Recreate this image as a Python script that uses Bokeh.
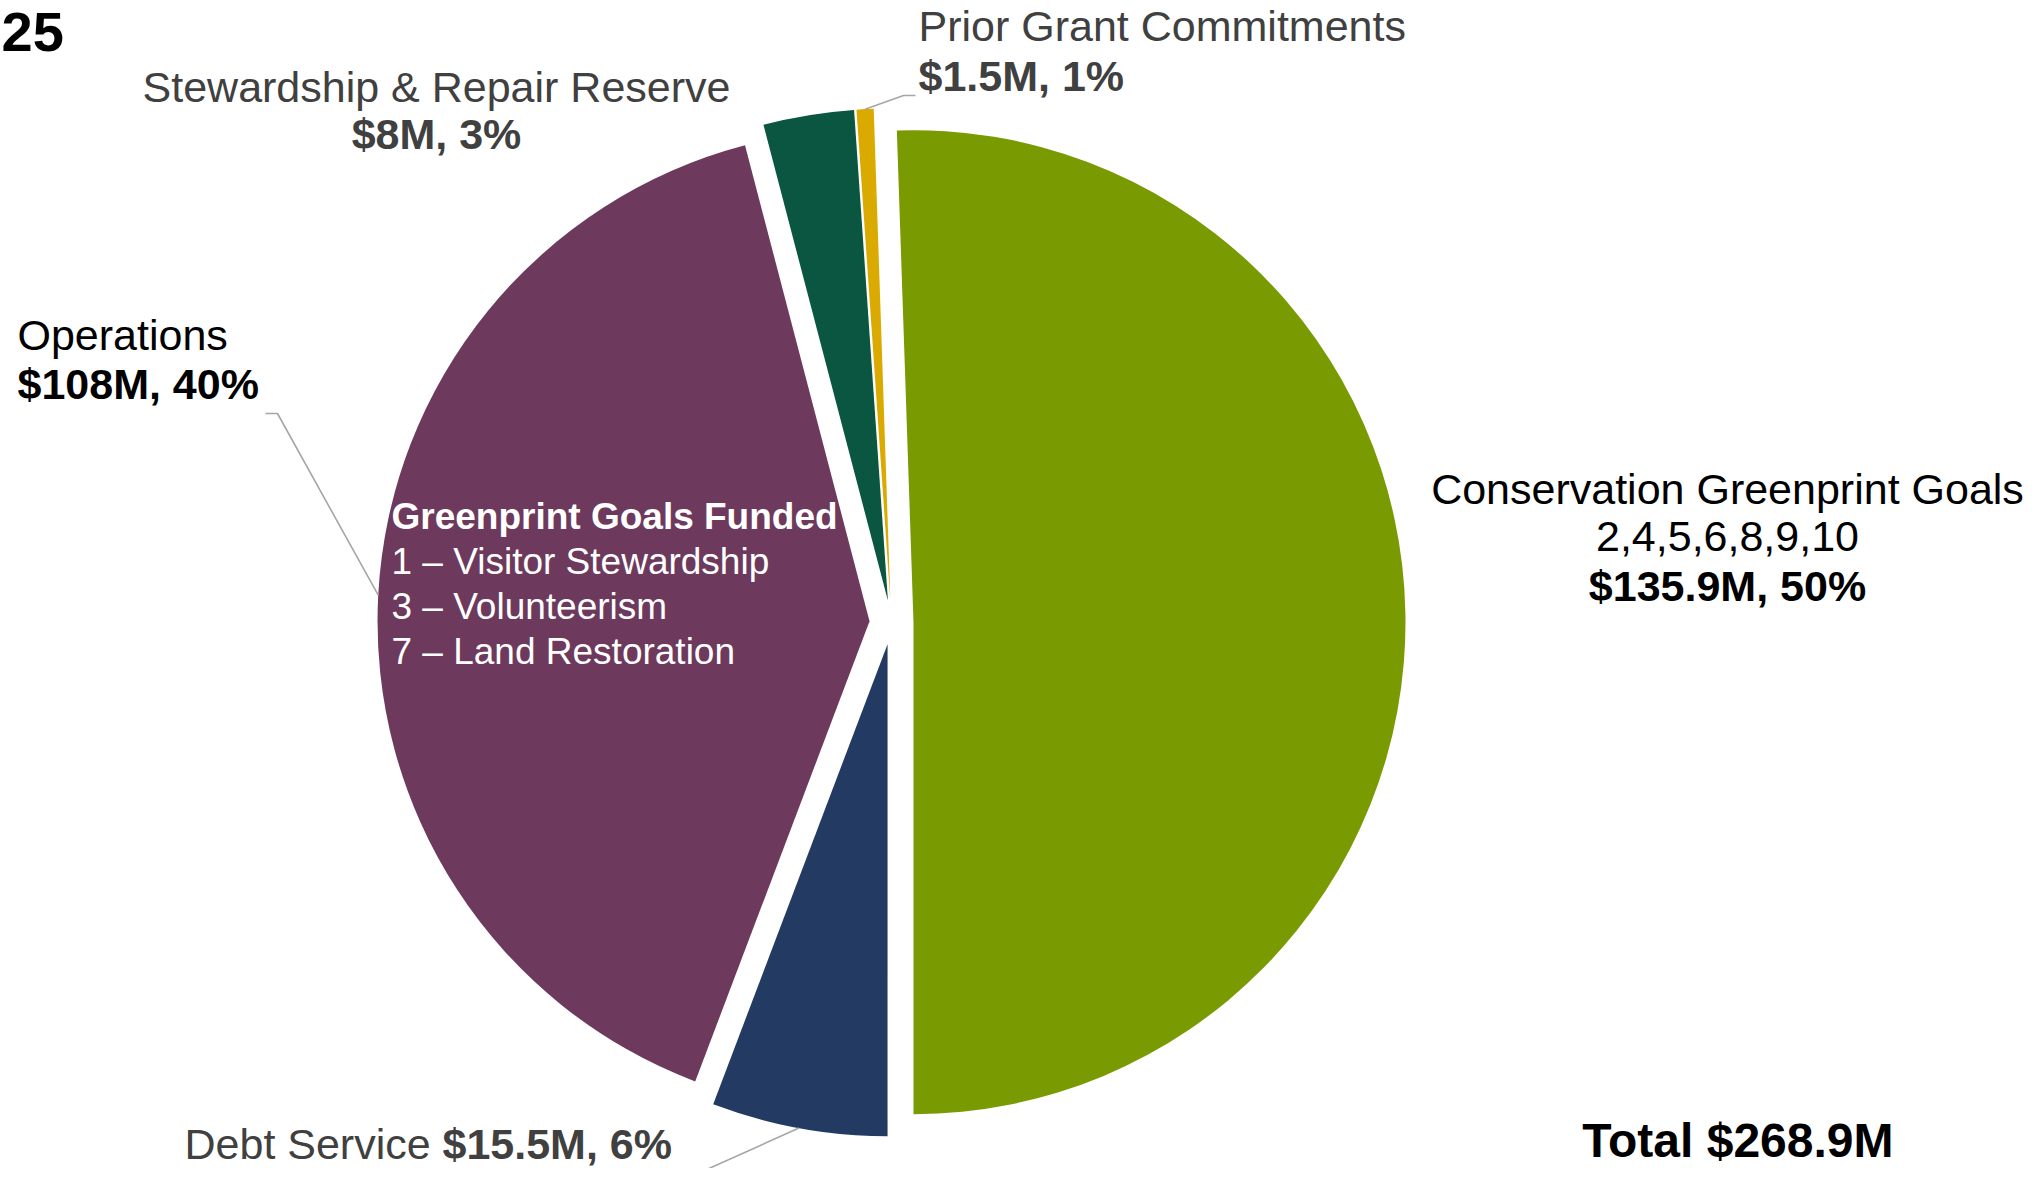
import numpy as np
from bokeh.plotting import figure
from bokeh.models import Range1d, ColumnDataSource
from bokeh.core.properties import value
from bokeh.embed import file_html
from bokeh.resources import INLINE

# ---------------- data ----------------
categories = ["Conservation Greenprint Goals", "Prior Grant Commitments",
              "Stewardship & Repair Reserve", "Operations", "Debt Service"]
amounts = [135.9, 1.5, 8.0, 108.0, 15.5]          # $M
amount_labels = ["$135.9M", "$1.5M", "$8M", "$108M", "$15.5M"]
pct_labels = ["50%", "1%", "3%", "40%", "6%"]
colors = ["#7A9A01", "#DAAA00", "#0A5640", "#6D3A5D", "#233A62"]
conservation_goals = "2,4,5,6,8,9,10"
goals_funded_title = "Greenprint Goals Funded"
goals_funded = ["1 – Visitor Stewardship", "3 – Volunteerism", "7 – Land Restoration"]
title_fragment = "25"

# ---------------- layout ----------------
W, H = 2025, 1168
FONT = "Liberation Sans"


def Y(py):
    return H - py


p = figure(width=W, height=H, output_backend="svg", toolbar_location=None,
           x_range=Range1d(0, W), y_range=Range1d(0, H),
           x_axis_location=None, y_axis_location=None, min_border=0,
           outline_line_color=None, background_fill_color="white")
p.xgrid.visible = False
p.ygrid.visible = False

# pie geometry
CX, CY = 891, Y(622)
R = 492
EXPLODE = 22
START = -np.pi / 2

vals = np.array(amounts, dtype=float)
total = vals.sum()
ang = 2 * np.pi * vals / total
ends = START + np.cumsum(ang)
starts = ends - ang
mids = (starts + ends) / 2
xs = CX + EXPLODE * np.cos(mids)
ys = CY + EXPLODE * np.sin(mids)

src = ColumnDataSource(dict(x=xs, y=ys, start=starts, end=ends, color=colors, cat=categories))
p.wedge(x="x", y="y", radius=R, start_angle="start", end_angle="end",
        fill_color="color", line_color=None, source=src)

# leader lines: from arc at slice bisector to label elbows
idx = {c: i for i, c in enumerate(categories)}


def arc_pt(cat):
    i = idx[cat]
    return xs[i] + R * np.cos(mids[i]), ys[i] + R * np.sin(mids[i])


ox, oy = arc_pt("Operations")
px_, py_ = arc_pt("Prior Grant Commitments")
dx, dy = arc_pt("Debt Service")
p.multi_line(xs=[[ox, 277, 265], [px_, 903, 915], [dx, 655]],
             ys=[[oy, Y(413), Y(413)], [py_, Y(95), Y(95)], [dy, Y(1192)]],
             line_color="#A6A6A6", line_width=1.6)

BASE_SHIFT = 0.3465  # rendered baseline sits this many em below the anchor


def txt(x, base, s, size, bold=False, color="black", align="left"):
    p.text(x=[x], y=[Y(base - BASE_SHIFT * size)], text=[s], text_font=value(FONT),
           text_font_size=value(f"{size}px"),
           text_font_style="bold" if bold else "normal",
           text_color=color, text_align=align, text_baseline="alphabetic")


GRAY = "#404040"
S = 43

# title fragment
txt(1, 51, title_fragment, 56, bold=True)

# Stewardship
i = idx["Stewardship & Repair Reserve"]
txt(436, 101, categories[i], S, color=GRAY, align="center")
txt(436, 148, f"{amount_labels[i]}, {pct_labels[i]}", S, bold=True, color=GRAY, align="center")

# Prior grant
i = idx["Prior Grant Commitments"]
txt(918, 40, categories[i], S, color=GRAY)
txt(918, 90, f"{amount_labels[i]}, {pct_labels[i]}", S, bold=True, color=GRAY)

# Operations
i = idx["Operations"]
txt(17, 349, categories[i], S)
txt(17, 398, f"{amount_labels[i]}, {pct_labels[i]}", S, bold=True)

# Conservation
i = idx["Conservation Greenprint Goals"]
txt(1727, 503, categories[i], S, align="center")
txt(1727, 551, conservation_goals, S, align="center")
txt(1727, 600, f"{amount_labels[i]}, {pct_labels[i]}", S, bold=True, align="center")

# Debt service
i = idx["Debt Service"]
txt(184, 1158, categories[i] + " ", S, color=GRAY)
txt(442, 1158, f"{amount_labels[i]}, {pct_labels[i]}", S, bold=True, color=GRAY)

# Greenprint goals inside operations slice
txt(391, 529, goals_funded_title, 37, bold=True, color="white")
for k, g in enumerate(goals_funded):
    txt(391, 574 + 45 * k, g, 37, color="white")

# Total
txt(1893, 1157, f"Total ${total:.1f}M", 48, bold=True, align="right")

open("out.html", "w").write(file_html(p, INLINE))
